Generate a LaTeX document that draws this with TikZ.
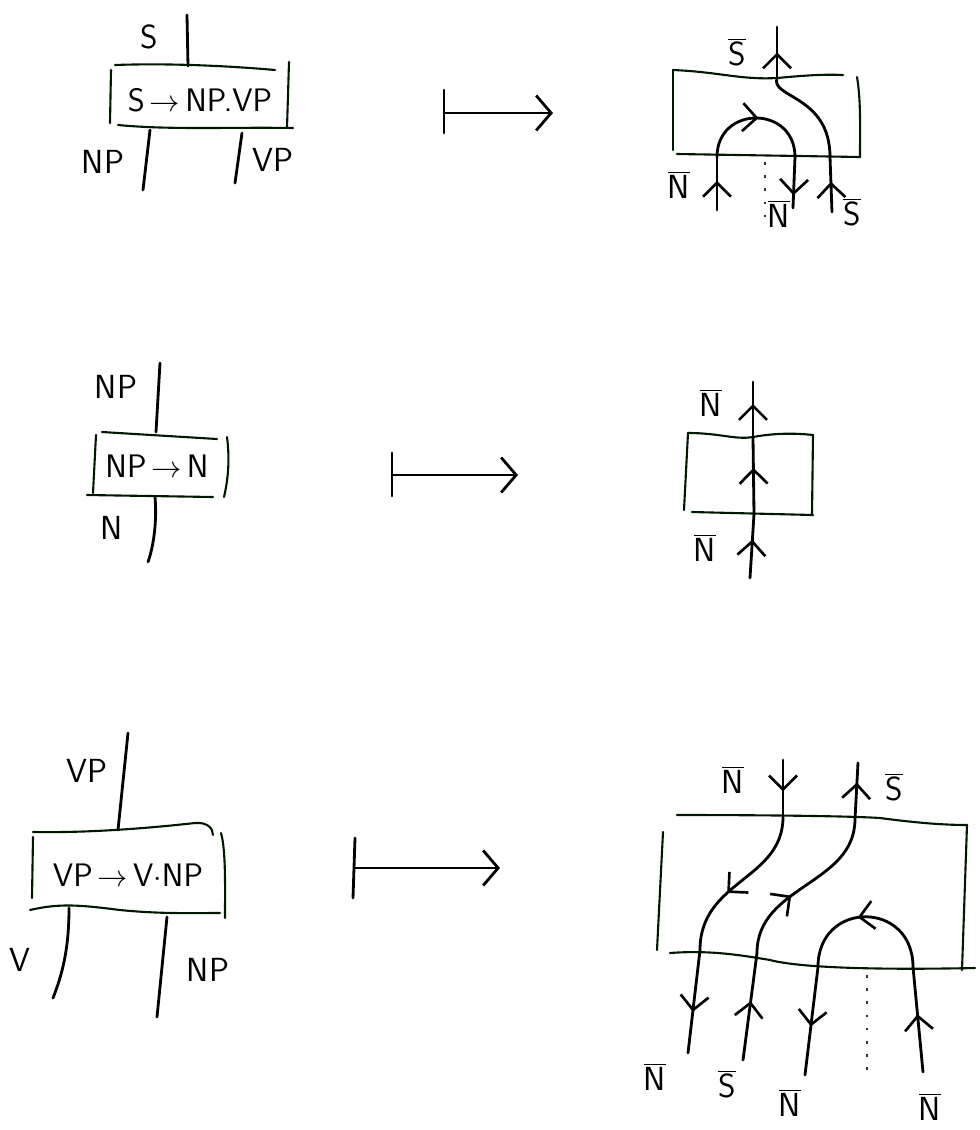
\documentclass[tikz,border=0pt]{standalone}
\usetikzlibrary{arrows.meta,decorations.markings}
\begin{document}
\begin{tikzpicture}[x=0.02cm,y=-0.02cm,
  wire/.style={line width=1.6pt,line cap=round,line join=round,black},
  boxline/.style={line width=1.2pt,line cap=round,black!85!green!60!black},
  midarrow/.style={postaction={decorate,decoration={markings,
     mark=at position #1 with {\arrow[line width=1.5pt]{Straight Barb[length=2.8mm,width=5.6mm]}}}}},
  midarrow/.default=0.5,
  lbl/.style={font=\sffamily\fontsize{19}{21}\selectfont,inner sep=1pt},
  boxtxt/.style={font=\sffamily\fontsize{18.5}{21}\selectfont,inner sep=0pt},
  maps/.style={line width=1.6pt,line cap=round,-{Straight Barb[length=3mm,width=7mm,line width=1.6pt]}},
  dotline/.style={line width=1.3pt,dash pattern=on 1.5pt off 6pt,black!80}]
\useasboundingbox (0,0) rectangle (980,1130);

% ================= Row 1 left =================
\coordinate (s1top) at (187,15);
\coordinate (s1bot) at (188,66);
\draw[wire] (s1top) -- (s1bot);
\coordinate (b1tl) at (115,65); \coordinate (b1tr) at (275,70);
\draw[boxline] (b1tl) .. controls (170,63) and (230,66) .. (b1tr);
\coordinate (b1l1) at (111,70); \coordinate (b1l2) at (110,123);
\draw[boxline] (b1l1) -- (b1l2);
\coordinate (b1r1) at (289,62); \coordinate (b1r2) at (287,128);
\draw[boxline] (b1r1) -- (b1r2);
\coordinate (b1bl) at (118,125); \coordinate (b1br) at (293,128);
\draw[boxline] (b1bl) .. controls (170,130) and (230,127) .. (b1br);
\node[boxtxt] (r1) at (200,100) {S$\,\rightarrow\,$NP.VP};
\coordinate (np1a) at (150,130); \coordinate (np1b) at (143,190);
\draw[wire] (np1a) -- (np1b);
\coordinate (vp1a) at (242,133); \coordinate (vp1b) at (235,183);
\draw[wire] (vp1a) -- (vp1b);
\node[lbl] (l1s) at (149,37) {S};
\node[lbl] (l1np) at (103,162) {NP};
\node[lbl] (l1vp) at (273,160) {VP};

% mapsto 1
\coordinate (m1a) at (444,90); \coordinate (m1b) at (444,133);
\coordinate (m1c) at (444,113); \coordinate (m1d) at (553,113);
\draw[wire] (m1a) -- (m1b);
\draw[maps] (m1c) -- (m1d);

% ================= Row 1 right =================
\coordinate (c1tl) at (673,70); \coordinate (c1tr) at (843,75);
\draw[boxline] (c1tl) .. controls (720,72) and (740,80) .. (777,78) .. controls (800,76) and (820,74) .. (c1tr);
\coordinate (c1l1) at (673,70); \coordinate (c1l2) at (673,150);
\draw[boxline] (c1l1) -- (c1l2);
\coordinate (c1r1) at (857,77); \coordinate (c1r2) at (860,157);
\draw[boxline] (c1r1) .. controls (861,100) and (860,130) .. (c1r2);
\coordinate (c1bl) at (677,154); \coordinate (c1br) at (860,157);
\draw[boxline] (c1bl) -- (c1br);
% S-bar wire
\coordinate (sw0) at (777,27); \coordinate (sw1) at (777,78);
\coordinate (sw2) at (830,157); \coordinate (sw3) at (832,212);
\draw[wire,midarrow=0.5] (sw1) -- (sw0);
\draw[wire] (sw1) .. controls (770,98) and (830,95) .. (sw2);
\draw[wire,midarrow=0.55] (sw3) -- (sw2);
% cap
\coordinate (cp0) at (717,210); \coordinate (cp1) at (717,157);
\coordinate (cp2) at (795,157); \coordinate (cp3) at (793,208);
\draw[wire,midarrow=0.55] (cp0) -- (cp1);
\draw[wire,midarrow=0.52] (cp1) .. controls (717,105) and (795,105) .. (cp2);
\draw[wire,midarrow=0.75] (cp2) -- (cp3);
\coordinate (d1a) at (765,162); \coordinate (d1b) at (765,226);
\draw[dotline] (d1a) -- (d1b);
\node[lbl] (l1sb) at (737,52) {$\overline{\textsf{S}}$};
\node[lbl] (l1nb1) at (679,185) {$\overline{\textsf{N}}$};
\node[lbl] (l1nb2) at (779,214) {$\overline{\textsf{N}}$};
\node[lbl] (l1sb2) at (852,212) {$\overline{\textsf{S}}$};

% ================= Row 2 left =================
\coordinate (np2a) at (160,363); \coordinate (np2b) at (156,432);
\draw[wire] (np2a) -- (np2b);
\coordinate (b2tl) at (102,432); \coordinate (b2tr) at (217,439);
\draw[boxline] (b2tl) -- (b2tr);
\coordinate (b2l1) at (96,435); \coordinate (b2l2) at (93,493);
\draw[boxline] (b2l1) -- (b2l2);
\coordinate (b2r1) at (227,437); \coordinate (b2r2) at (224,497);
\draw[boxline] (b2r1) .. controls (230,460) and (228,480) .. (b2r2);
\coordinate (b2bl) at (87,495); \coordinate (b2br) at (213,497);
\draw[boxline] (b2bl) -- (b2br);
\node[boxtxt] (r2) at (157,466) {NP$\,\rightarrow\,$N};
\coordinate (n2a) at (155,497); \coordinate (n2b) at (148,562);
\draw[wire] (n2a) .. controls (157,520) and (154,545) .. (n2b);
\node[lbl] (l2np) at (116,387) {NP};
\node[lbl] (l2n) at (112,528) {N};

% mapsto 2
\coordinate (m2a) at (392,453); \coordinate (m2b) at (392,496);
\coordinate (m2c) at (392,475); \coordinate (m2d) at (518,475);
\draw[wire] (m2a) -- (m2b);
\draw[maps] (m2c) -- (m2d);

% ================= Row 2 right =================
\coordinate (c2tl) at (688,433); \coordinate (c2tr) at (813,435);
\draw[boxline] (c2tl) .. controls (720,433) and (735,440) .. (753,437) .. controls (775,433) and (795,433) .. (c2tr);
\coordinate (c2l1) at (688,433); \coordinate (c2l2) at (684,510);
\draw[boxline] (c2l1) -- (c2l2);
\coordinate (c2r1) at (813,435); \coordinate (c2r2) at (812,515);
\draw[boxline] (c2r1) -- (c2r2);
\coordinate (c2bl) at (692,512); \coordinate (c2br) at (813,515);
\draw[boxline] (c2bl) -- (c2br);
\coordinate (w2a) at (750,578); \coordinate (w2b) at (754,514);
\coordinate (w2c) at (753,437); \coordinate (w2d) at (753,382);
\draw[wire,midarrow=0.6] (w2a) -- (w2b);
\draw[wire,midarrow=0.6] (w2b) -- (w2c);
\draw[wire,midarrow=0.6] (w2c) -- (w2d);
\node[lbl] (l2nb1) at (711,403) {$\overline{\textsf{N}}$};
\node[lbl] (l2nb2) at (705,548) {$\overline{\textsf{N}}$};

% ================= Row 3 left =================
\coordinate (vp3a) at (128,733); \coordinate (vp3b) at (118,830);
\draw[wire] (vp3a) -- (vp3b);
\coordinate (b3tl) at (33,832); \coordinate (b3tr) at (213,835);
\draw[boxline] (b3tl) .. controls (90,833) and (150,828) .. (195,823) .. controls (207,822) and (213,828) .. (b3tr);
\coordinate (b3l1) at (33,837); \coordinate (b3l2) at (32,898);
\draw[boxline] (b3l1) -- (b3l2);
\coordinate (b3r1) at (221,833); \coordinate (b3r2) at (225,918);
\draw[boxline] (b3r1) .. controls (226,850) and (225,890) .. (b3r2);
\coordinate (b3bl) at (30,910); \coordinate (b3br) at (220,913);
\draw[boxline] (b3bl) .. controls (60,903) and (80,905) .. (120,910) .. controls (160,914) and (190,913) .. (b3br);
\node[boxtxt] (r3) at (128,875) {VP$\,\rightarrow\,$V$\cdot$NP};
\coordinate (v3a) at (69,908); \coordinate (v3b) at (53,998);
\draw[wire] (v3a) .. controls (69,950) and (62,975) .. (v3b);
\coordinate (np3a) at (167,917); \coordinate (np3b) at (157,1017);
\draw[wire] (np3a) -- (np3b);
\node[lbl] (l3vp) at (87,771) {VP};
\node[lbl] (l3v) at (20,960) {V};
\node[lbl] (l3np) at (208,970) {NP};

% mapsto 3
\coordinate (m3a) at (355,838); \coordinate (m3b) at (353,898);
\coordinate (m3c) at (355,868); \coordinate (m3d) at (500,868);
\draw[wire] (m3a) -- (m3b);
\draw[maps] (m3c) -- (m3d);

% ================= Row 3 right =================
\coordinate (c3tl) at (677,815); \coordinate (c3tr) at (967,825);
\draw[boxline] (c3tl) .. controls (760,815) and (850,816) .. (880,818) .. controls (910,822) and (940,825) .. (c3tr);
\coordinate (c3r1) at (967,825); \coordinate (c3r2) at (962,970);
\draw[boxline] (c3r1) -- (c3r2);
\coordinate (c3l1) at (663,832); \coordinate (c3l2) at (657,950);
\draw[boxline] (c3l1) -- (c3l2);
\coordinate (c3bl) at (670,953); \coordinate (c3br) at (975,968);
\draw[boxline] (c3bl) .. controls (710,950) and (740,955) .. (770,960) .. controls (800,968) and (880,970) .. (c3br);
% N-bar wire (down)
\coordinate (na0) at (783,760); \coordinate (na1) at (783,817);
\coordinate (na2) at (700,950); \coordinate (na3) at (688,1053);
\draw[wire,midarrow=0.55] (na0) -- (na1);
\draw[wire,midarrow=0.6] (na1) .. controls (783,880) and (700,880) .. (na2);
\draw[wire,midarrow=0.6] (na2) -- (na3);
% S-bar wire (up)
\coordinate (sa0) at (743,1060); \coordinate (sa1) at (757,953);
\coordinate (sa2) at (855,819); \coordinate (sa3) at (858,763);
\draw[wire,midarrow=0.55] (sa0) -- (sa1);
\draw[wire,midarrow=0.4] (sa1) .. controls (757,885) and (855,885) .. (sa2);
\draw[wire,midarrow=0.65] (sa2) -- (sa3);
% cap
\coordinate (cq0) at (923,1072); \coordinate (cq1) at (913,967);
\coordinate (cq2) at (818,967); \coordinate (cq3) at (805,1075);
\draw[wire,midarrow=0.55] (cq0) -- (cq1);
\draw[wire,midarrow=0.55] (cq1) .. controls (913,900) and (818,900) .. (cq2);
\draw[wire,midarrow=0.55] (cq2) -- (cq3);
\coordinate (d3a) at (867,975); \coordinate (d3b) at (867,1078);
\draw[dotline] (d3a) -- (d3b);
\node[lbl] (l3nt) at (733,780) {$\overline{\textsf{N}}$};
\node[lbl] (l3st) at (894,787) {$\overline{\textsf{S}}$};
\node[lbl] (l3n1) at (655,1077) {$\overline{\textsf{N}}$};
\node[lbl] (l3s1) at (727,1084) {$\overline{\textsf{S}}$};
\node[lbl] (l3n2) at (790,1103) {$\overline{\textsf{N}}$};
\node[lbl] (l3n3) at (930,1107) {$\overline{\textsf{N}}$};
\end{tikzpicture}
\end{document}
